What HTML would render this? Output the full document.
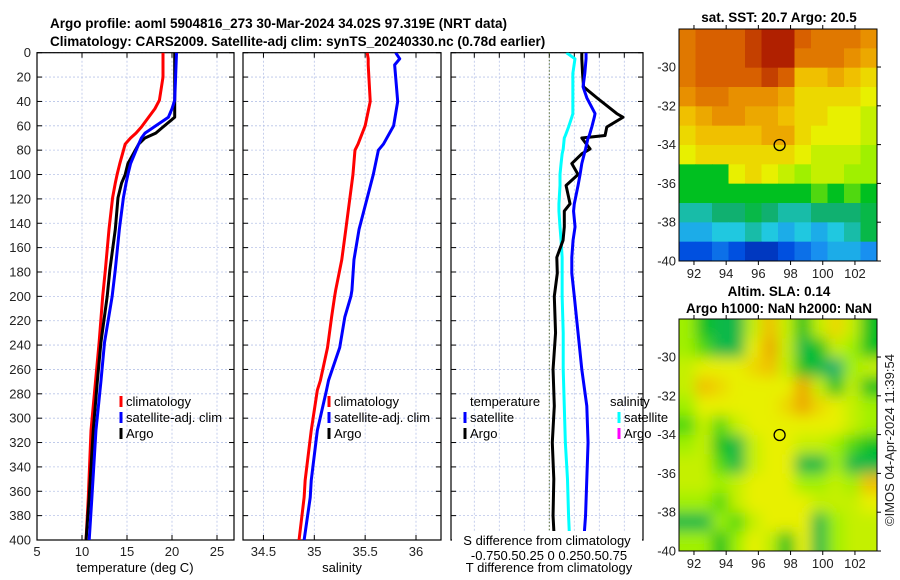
<!DOCTYPE html>
<html><head><meta charset="utf-8"><style>
body{margin:0;background:#fff;width:900px;height:580px;overflow:hidden}
svg{font-family:"Liberation Sans",sans-serif;display:block}
</style></head><body>
<svg id="c" width="900" height="580" xmlns="http://www.w3.org/2000/svg">
<defs>
<clipPath id="cp1"><rect x="37" y="52.7" width="197" height="487.3"/></clipPath>
<clipPath id="cp2"><rect x="243" y="52.7" width="198" height="487.3"/></clipPath>
<clipPath id="cp3"><rect x="451" y="52.7" width="192" height="487.3"/></clipPath>
<clipPath id="cpm1"><rect x="679" y="29" width="198" height="232"/></clipPath>
<clipPath id="cpm2"><rect x="679" y="319" width="198" height="232"/></clipPath>
<filter id="blur" x="-10%" y="-10%" width="120%" height="120%"><feGaussianBlur stdDeviation="7"/></filter>
</defs>
<text x="50" y="28" font-size="13.5" font-weight="bold">Argo profile: aoml 5904816_273 30-Mar-2024 34.02S 97.319E (NRT data)</text>
<text x="50" y="46" font-size="13.5" font-weight="bold">Climatology: CARS2009. Satellite-adj clim: synTS_20240330.nc (0.78d earlier)</text>
<g id="g"></g>
</svg>
<script>
// depth levels for profiles
const depthT = [0,20,39,46,53,61,66,70,75,91,100,107,119,145,178,200,238,270,310,365,400];
const tempClim = [19.0,19.0,18.6,18.1,17.4,16.6,16.0,15.4,14.8,14.2,13.9,13.7,13.4,13.0,12.6,12.3,11.9,11.5,11.0,10.7,10.45];
const tempSat  = [20.5,20.4,20.3,20.0,19.6,18.0,17.0,16.6,16.3,15.4,15.1,14.9,14.6,14.15,13.7,13.35,12.5,12.1,11.55,11.1,10.8];
const tempArgo = [20.3,20.3,20.3,20.3,20.3,19.0,18.2,17.0,16.3,15.1,14.8,14.4,14.0,13.7,13.1,12.8,12.1,11.7,11.25,10.8,10.45];
const depthS = [0,5,10,40,60,75,80,100,145,170,195,200,217,242,269,277,310,351,365,400];
const salClim = [35.52,35.53,35.53,35.55,35.50,35.43,35.40,35.38,35.31,35.27,35.21,35.20,35.17,35.13,35.06,35.03,34.97,34.91,34.90,34.85];
const salSat  = [35.80,35.84,35.79,35.82,35.78,35.68,35.63,35.58,35.44,35.39,35.37,35.36,35.30,35.25,35.14,35.12,35.03,34.97,34.96,34.90];
const depthD = [0,5,17,28,37,50,53,61,68,70,79,83,91,100,109,124,130,143,154,168,181,200,230,260,290,320,350,380,400];
const tdiffSat  = [1.47,1.47,1.42,1.35,1.5,1.83,1.8,1.7,1.6,1.55,1.45,1.4,1.3,1.23,1.15,1.0,0.97,1.03,0.95,0.9,0.9,1.0,1.15,1.3,1.5,1.55,1.5,1.45,1.38];
const tdiffArgo = [1.3,1.3,1.33,1.37,1.9,2.7,2.95,2.3,2.23,1.3,1.63,1.3,0.9,1.15,0.67,0.83,0.6,0.6,0.55,0.3,0.32,0.2,0.25,0.15,0.2,0.12,0.18,0.15,0.2];
const sdiffSat  = [0.16,0.24,0.22,0.22,0.22,0.22,0.21,0.18,0.15,0.14,0.13,0.12,0.11,0.10,0.10,0.09,0.09,0.1,0.11,0.12,0.12,0.12,0.13,0.13,0.14,0.15,0.17,0.18,0.19];
const yTicks = [0,20,40,60,80,100,120,140,160,180,200,220,240,260,280,300,320,340,360,380,400];
const tTicks = [5,10,15,20,25];
const sTicks = [34.5,35,35.5,36];
const dTicks = [-3,-2,-1,0,1,2,3];
const dTickLabels = ['-3','-2','-1','0','1','2','3'];
// maps: 12x12 grids, rows from north (-28) to south (-40), cols west to east
const sstGrid = [
[9.5,10,10,10,10.5,11,11,10,9.5,9.5,9.5,9],
[9.5,10,10,10,10.5,11,11,9.5,9.5,9.5,9,8.5],
[9.5,10,10,10,10,10.5,10,8,8,8.5,8,7.5],
[9,9.5,9.5,9,9,9,8.5,7.5,7.5,7.5,7.5,7],
[8,8.5,9,9,8.5,8.5,8,7.5,7.5,7,7,6.5],
[7.5,8,8,8,8,8.5,8.5,7.5,7,7,7,6.5],
[7,7.5,7.5,7.5,7.5,7.5,7.5,7,6.5,6.5,6.5,6],
[5,5,5,7,7.5,7,6.5,6,6.5,6.5,6,6],
[5,5,5,5,5,5,5,5,5.5,5,5.5,5],
[3.5,3.5,4,4,4.5,4,3.5,3.5,4,4,4,4.5],
[2.5,2.5,3,3,3.5,3,2.5,3,2.5,3,3.5,4.5],
[1,1,1.5,1,0.5,0.5,1,1.5,2,2.5,2.5,2]];
const slaGrid = [
[6,5,4.5,4.5,6.5,8,6.5,5,6.5,7.5,6.5,5],
[6,5.5,4.5,4.5,7,8.5,6.5,4.5,5,6.5,6,5],
[6.5,7,7,7,7.5,8,6.5,5,4.5,4,6,6.5],
[6.5,8,7.5,7,7,7,7,8.5,6.5,5,6.5,5],
[6,7,7,7,7,7,7.5,8.5,7.5,7,6.5,6],
[5.5,6.5,5.5,6.5,7,7,7,7,7,7,6.5,6],
[6,6.5,5,4.5,6.5,7,7,6.5,6.5,6,5.5,5],
[6.5,6.5,5.5,4.5,6.5,7,7,4.5,4.5,6,4.5,4.5],
[6.5,6.5,6,6.5,7,7,7,6,6,6.5,6,8],
[6,6,5.5,6.5,7,7,7,7,6.5,6.5,6.5,7],
[4.5,4.5,6,5.5,6.5,7,7,7,4.5,6,6.5,6.5],
[6,6,5,6,7,6.5,5,7,4.5,6,6.5,6.5]];
const latTicks = [-30,-32,-34,-36,-38,-40];
const lonTicks = [92,94,96,98,100,102];
const argoLon = 97.32, argoLat = -34.02;

const NS='http://www.w3.org/2000/svg';
const G=document.getElementById('g');
function el(tag,attrs,parent){const e=document.createElementNS(NS,tag);for(const k in attrs)e.setAttribute(k,attrs[k]);(parent||G).appendChild(e);return e;}
const yTop=52.7,yBot=540;
const yS=d=>yTop+(d/400)*(yBot-yTop);
const xT=t=>37+(t-5)*9;
const xS=s=>314.3+(s-35)*101.7;
const xD=v=>549.3+v*25;
const xSD=v=>549.3+v*107;

function panel(x0,x1,ticks,fx,labels,name,leftLabels){
  const g=el('g',{});
  
  
  yTicks.forEach(d=>{
    const l=el('line',{x1:x0,x2:x1,y1:yS(d),y2:yS(d),stroke:'#b8c4e8','stroke-width':0.8,'stroke-dasharray':'2,2'},g);
    
    
    el('line',{x1:x0,x2:x0+5,y1:yS(d),y2:yS(d),stroke:'#000'},g);
    el('line',{x1:x1-5,x2:x1,y1:yS(d),y2:yS(d),stroke:'#000'},g);
    if(leftLabels){const t=el('text',{x:x0-6,y:yS(d)+4.5,'font-size':13,'text-anchor':'end',fill:'#222'},g);t.textContent=d;
      
      }
  });
  ticks.forEach((v,i)=>{
    const x=fx(v);
    const l=el('line',{x1:x,x2:x,y1:yTop,y2:yBot,stroke:'#b8c4e8','stroke-width':0.8,'stroke-dasharray':'2,2'},g);
    
    
    el('line',{x1:x,x2:x,y1:yBot-5,y2:yBot,stroke:'#000'},g);
    el('line',{x1:x,x2:x,y1:yTop,y2:yTop+5,stroke:'#000'},g);
    const t=el('text',{x:x,y:556,'font-size':13,'text-anchor':'middle',fill:'#222'},g);t.textContent=labels[i];
    
    
  });
  const r=el('rect',{x:x0,y:yTop,width:x1-x0,height:yBot-yTop,fill:'none',stroke:'#000','stroke-width':1.2},g);
  
  
}
panel(37,234,tTicks,xT,tTicks.map(String),'temperature-panel',true);
panel(243,441,sTicks,xS,sTicks.map(String),'salinity-panel',false);
panel(451,643,dTicks,xD,dTickLabels,'tdiff-panel',false);

function line(xs,ds,fx,color,clip,name,w){
  const p=el('polyline',{points:xs.map((v,i)=>fx(v)+','+yS(ds[i])).join(' '),fill:'none',stroke:color,'stroke-width':w||3,'stroke-linejoin':'round','clip-path':'url(#'+clip+')'});
  
  
}
const z=el('line',{x1:xD(0),x2:xD(0),y1:yTop,y2:yBot,stroke:'#556b2f','stroke-dasharray':'1.5,2','stroke-width':1});


line(tempClim,depthT,xT,'#ff0000','cp1','temp-climatology-line');
line(tempArgo,depthT,xT,'#000000','cp1','temp-argo-line');
line(tempSat,depthT,xT,'#0000ff','cp1','temp-satellite-line');
line(salClim,depthS,xS,'#ff0000','cp2','sal-climatology-line');
line(salSat,depthS,xS,'#0000ff','cp2','sal-satellite-line');
line(sdiffSat,depthD,xSD,'#00ffff','cp3','sdiff-satellite-line');
line(tdiffArgo,depthD,xD,'#000000','cp3','tdiff-argo-line');
line(tdiffSat,depthD,xD,'#0000ff','cp3','tdiff-satellite-line');

function legendItem(x,y,color,label,name){
  const g=el('g',{});
  
  
  if(color) el('line',{x1:x,x2:x,y1:y-10,y2:y+1,stroke:color,'stroke-width':3},g);
  const t=el('text',{x:x+5,y:y,'font-size':13,fill:'#000'},g);t.textContent=label;
}
legendItem(121,406,'#ff0000','climatology','legend-climatology');
legendItem(121,422,'#0000ff','satellite-adj. clim','legend-satellite');
legendItem(121,438,'#000','Argo','legend-argo');
legendItem(329,406,'#ff0000','climatology','legend-sal-climatology');
legendItem(329,422,'#0000ff','satellite-adj. clim','legend-sal-satellite');
legendItem(329,438,'#000','Argo','legend-sal-argo');
legendItem(465,406,null,'temperature','legend-temperature-heading');
legendItem(465,422,'#0000ff','satellite','legend-t-satellite');
legendItem(465,438,'#000','Argo','legend-t-argo');
legendItem(605,406,null,'salinity','legend-salinity-heading');
legendItem(619,422,'#00ffff','satellite','legend-s-satellite');
legendItem(619,438,'#ff00ff','Argo','legend-s-argo');
el('rect',{x:452,y:531,width:190,height:30,fill:'#fff'});
[['S difference from climatology',547,545,'sdiff-axis-title'],['-0.750.50.25 0 0.250.50.75',549,560,'sdiff-tick-labels'],
 ['temperature (deg C)',135,572,'x-axis-title-temperature'],['salinity',342,572,'x-axis-title-salinity'],['T difference from climatology',549,572,'x-axis-title-tdiff']].forEach(a=>{
  const t=el('text',{x:a[1],y:a[2],'font-size':13,'text-anchor':'middle',fill:'#000'});t.textContent=a[0];
  
  
});

// maps
const mx0=679,mx1=877,lon0=91.07,lon1=103.37,lat0=-28.04,lat1=-40;
const stops=[[0,[0,32,160]],[1,[0,80,224]],[2,[24,144,240]],[3,[32,200,224]],[4,[16,176,112]],[5,[0,192,32]],[6,[160,240,0]],[7,[232,240,0]],[8,[240,192,0]],[9,[232,144,0]],[10,[216,96,0]],[11,[176,32,0]]];
function cmap(v){v=Math.max(0,Math.min(11,v));const i=Math.min(10,Math.floor(v));const f=v-i;const a=stops[i][1],b=stops[i+1][1];
  return 'rgb('+a.map((c,k)=>Math.round(c+(b[k]-c)*f)).join(',')+')';}
function drawMap(grid,my0,my1,clip,name,blur){
  const g=el('g',{'clip-path':'url(#'+clip+')'});
  
  
  const inner=el('g',blur?{filter:'url(#blur)'}:{},g);
  const px=lo=>mx0+(lo-lon0)/(lon1-lon0)*(mx1-mx0);
  const py=la=>my0+(la-lat0)/(lat1-lat0)*(my1-my0);
  const nr=grid.length,nc=grid[0].length;
  const dLa=(lat1-lat0)/nr,dLo=(lon1-lon0)/nc;
  const pad=blur?16:0;
  grid.forEach((row,r)=>row.forEach((v,c)=>{
    let x=px(lon0+c*dLo),y=py(lat0+r*dLa),w=px(lon0+(c+1)*dLo)-x,h=py(lat0+(r+1)*dLa)-y;
    if(blur){if(c==0){x-=pad;w+=pad;}if(c==nc-1)w+=pad;if(r==0){y-=pad;h+=pad;}if(r==nr-1)h+=pad;}
    const cell=el('rect',{x:x,y:y,width:w+0.5,height:h+0.5,fill:cmap(v)},inner);
    
    
  }));
  const ax=el('g',{});
  
  
  el('rect',{x:mx0,y:my0,width:mx1-mx0,height:my1-my0,fill:'none',stroke:'#000','stroke-width':1},ax);
  latTicks.forEach(la=>{const y=py(la);
    el('line',{x1:mx1,x2:mx1+4,y1:y,y2:y,stroke:'#000'},ax);
    const t=el('text',{x:mx0-3,y:y+4.5,'font-size':13,'text-anchor':'end',fill:'#222'},ax);t.textContent=la;});
  lonTicks.forEach(lo=>{const x=px(lo);
    el('line',{x1:x,x2:x,y1:my1,y2:my1+4,stroke:'#000'},ax);
    el('line',{x1:x,x2:x,y1:my0-4,y2:my0,stroke:'#000'},ax);
    const t=el('text',{x:x,y:my1+17,'font-size':13,'text-anchor':'middle',fill:'#222'},ax);t.textContent=lo;});
  const m=el('circle',{cx:px(argoLon),cy:py(argoLat),r:5.5,fill:'none',stroke:'#000','stroke-width':1.3});
  
  
}
drawMap(sstGrid,29,261,'cpm1','sst-map',false);
drawMap(slaGrid,319,551,'cpm2','sla-map',true);
[['sat. SST: 20.7 Argo: 20.5',779,22,'sst-map-title'],['Altim. SLA: 0.14',779,296,'sla-map-title'],['Argo h1000: NaN h2000: NaN',779,313,'argo-height-title']].forEach(a=>{
  const t=el('text',{x:a[1],y:a[2],'font-size':13.5,'font-weight':'bold','text-anchor':'middle',fill:'#000'});t.textContent=a[0];
  
  
});
const cr=el('text',{x:0,y:0,'font-size':13,'text-anchor':'middle',fill:'#222',transform:'translate(894,440) rotate(-90)'});
cr.textContent='©IMOS 04-Apr-2024 11:39:54';


</script>
</body></html>
